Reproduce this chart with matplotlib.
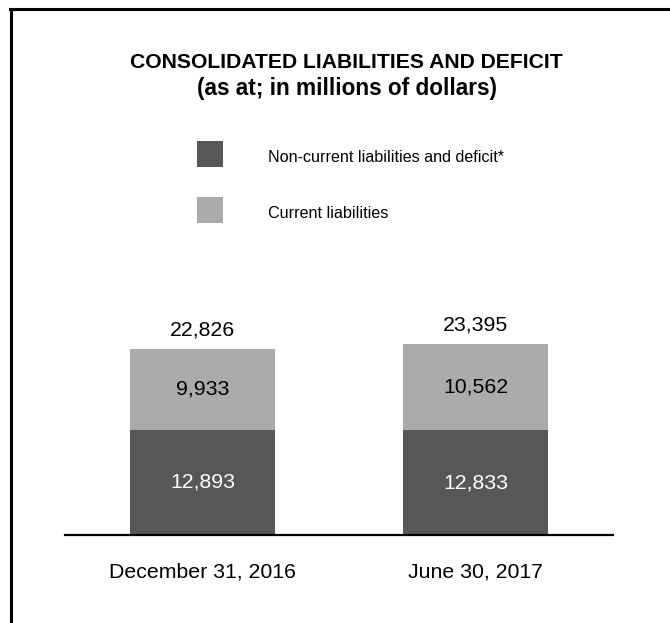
import numpy as np
import matplotlib
matplotlib.use("Agg")
import matplotlib.pyplot as plt
from matplotlib.lines import Line2D
from matplotlib.patches import Rectangle

plt.rcParams['font.family'] = ['Liberation Sans', 'DejaVu Sans']

# data (millions of dollars)
categories = ["December 31, 2016", "June 30, 2017"]
non_current = [12893, 12833]
current = [9933, 10562]
totals = [22826, 23395]
series_names = ["Non-current liabilities and deficit*", "Current liabilities"]

dark = "#575757"
light = "#ababab"

W, H = 670, 623
fig = plt.figure(figsize=(W / 100, H / 100), dpi=100)

# bar axes: baseline at y=535px, x from 65 to 613 px
ax = fig.add_axes([65 / W, (H - 535) / H, (613 - 65) / W, (535 - 300) / H])
x = np.arange(len(categories))
bw = 0.531
ax.bar(x, non_current, width=bw, color=dark)
ax.bar(x, current, width=bw, bottom=non_current, color=light)

fs = 15.3
for i in range(len(x)):
    ax.text(x[i], non_current[i] / 2, f"{non_current[i]:,}", ha="center", va="center",
            color="white", fontsize=fs)
    ax.text(x[i], non_current[i] + current[i] / 2, f"{current[i]:,}", ha="center",
            va="center", color="black", fontsize=fs)
    ax.text(x[i], totals[i] + 2300, f"{totals[i]:,}", ha="center", va="center",
            color="black", fontsize=fs)

ax.set_xlim(-0.504, 1.504)
ax.set_ylim(0, 28800)
for s in ["top", "left", "right"]:
    ax.spines[s].set_visible(False)
ax.spines["bottom"].set_linewidth(1.6)
ax.set_yticks([])
ax.set_xticks(x)
ax.set_xticklabels(categories, fontsize=fs)
ax.tick_params(axis="x", length=0, pad=20)

# title
fig.text(0.5 * (130 + 563) / W, 1 - 62 / H, "CONSOLIDATED LIABILITIES AND DEFICIT",
         ha="center", va="center", fontsize=15.2, fontweight="bold")
fig.text(0.5 * (194 + 500) / W, 1 - 89 / H, "(as at; in millions of dollars)",
         ha="center", va="center", fontsize=16.3, fontweight="bold")

# legend
for j, (name, col) in enumerate(zip(series_names, [dark, light])):
    yc = 154 + j * 56
    fig.add_artist(Rectangle((197 / W, 1 - (yc + 13) / H), 26 / W, 26 / H,
                             transform=fig.transFigure, facecolor=col, edgecolor="none"))
    fig.text(268 / W, 1 - (yc + 3) / H, name, ha="left", va="center", fontsize=11.6)

# frame lines (top and left)
fig.add_artist(Line2D([10 / W, 1], [1 - 9 / H, 1 - 9 / H], color="black", lw=2.2,
                      transform=fig.transFigure))
fig.add_artist(Line2D([11 / W, 11 / W], [0, 1 - 9 / H], color="black", lw=2.2,
                      transform=fig.transFigure))

fig.savefig("out.png", dpi=100)
